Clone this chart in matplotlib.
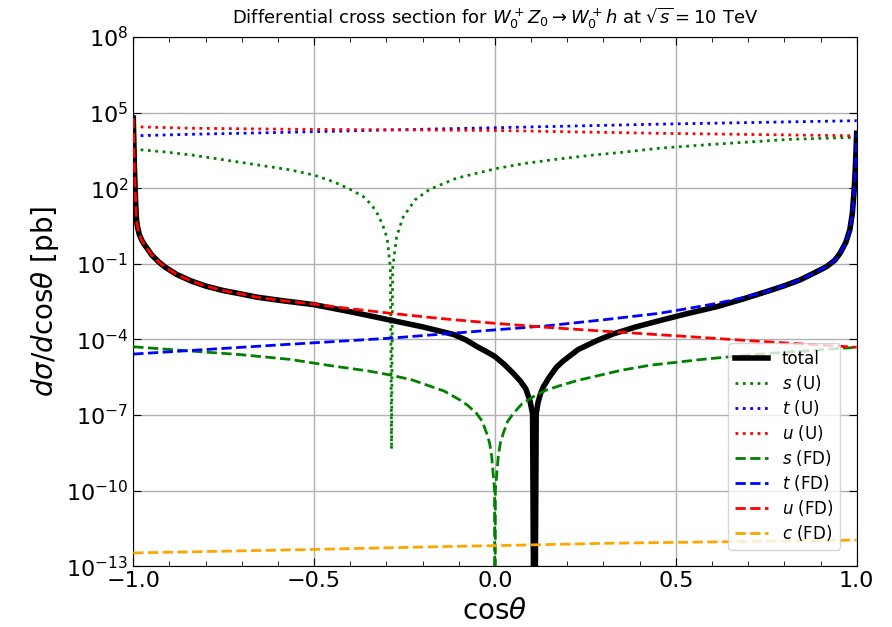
import numpy as np
import matplotlib
matplotlib.use("Agg")
import matplotlib.pyplot as plt
from matplotlib.ticker import FixedLocator, MultipleLocator, LogFormatterSciNotation, NullLocator

# Values: cos(theta) and log10(dsigma/dcos) for each curve

# total
tot_c = [-1.0, -0.998, -0.997, -0.995, -0.993, -0.991, -0.988, -0.983, -0.977, -0.970,
         -0.960, -0.949, -0.930, -0.912, -0.880, -0.840, -0.800, -0.751, -0.700, -0.659,
         -0.594, -0.5, -0.4, -0.29, -0.2, -0.115, -0.08, -0.05, -0.025, 0.0,
         0.025, 0.051, 0.07, 0.085, 0.097, 0.104, 0.109, 0.114, 0.119, 0.126,
         0.133, 0.15, 0.17, 0.189, 0.23, 0.281, 0.327, 0.39, 0.456, 0.53,
         0.613, 0.68, 0.751, 0.80, 0.843, 0.88, 0.917, 0.94, 0.954, 0.97,
         0.981, 0.988, 0.993, 0.996, 0.998, 1.0]
tot_log = [4.78, 3.6, 2.9, 2.06, 1.3, 0.74, 0.45, 0.15, -0.05, -0.22,
           -0.42, -0.65, -0.92, -1.13, -1.42, -1.68, -1.88, -2.06, -2.20, -2.32,
           -2.45, -2.62, -2.90, -3.23, -3.50, -3.80, -4.02, -4.28, -4.47, -4.68,
           -4.98, -5.35, -5.65, -5.95, -6.45, -6.95, -20.0, -6.95, -6.50, -6.15,
           -5.90, -5.50, -5.10, -4.85, -4.40, -4.05, -3.78, -3.50, -3.25, -2.98,
           -2.70, -2.42, -2.10, -1.87, -1.64, -1.38, -1.11, -0.85, -0.58, -0.15,
           0.35, 1.0, 1.93, 2.7, 3.4, 4.18]

# s (U)
sU_c = [-1.0, -0.92, -0.84, -0.7, -0.567, -0.5, -0.447, -0.401, -0.364, -0.341, -0.323, -0.309,
        -0.298, -0.289, -0.286, -0.283, -0.272, -0.254, -0.221, -0.18, -0.106, 0.0,
        0.08, 0.171, 0.26, 0.355, 0.456, 0.6, 0.816, 1.0]
sU_log = [3.55, 3.45, 3.32, 3.02, 2.73, 2.52, 2.26, 1.96, 1.67, 1.34, 0.94, 0.48,
          0.02, -1.2, -8.36, -1.2, 0.08, 0.85, 1.54, 1.96, 2.40, 2.77,
          2.98, 3.15, 3.30, 3.43, 3.59, 3.74, 3.94, 4.02]

# t (U)
tU_c = [-1.0, -0.84, -0.567, -0.3, 0.0, 0.447, 1.0]
tU_log = [4.08, 4.14, 4.22, 4.31, 4.40, 4.54, 4.68]

# u (U)
uU_c = [-1.0, -0.84, -0.567, -0.3, 0.0, 0.447, 1.0]
uU_log = [4.44, 4.38, 4.34, 4.32, 4.29, 4.18, 4.08]

# s (FD)
sFD_c = [-1.0, -0.85, -0.705, -0.567, -0.45, -0.35, -0.29, -0.23, -0.18, -0.14, -0.097,
         -0.075, -0.051, -0.035, -0.023, -0.015, -0.009, -0.001, 0.0,
         0.001, 0.009, 0.015, 0.023, 0.035, 0.051, 0.075, 0.106, 0.14, 0.18, 0.23, 0.29,
         0.35, 0.43, 0.567, 0.705, 0.85, 1.0]
sFD_log = [-4.29, -4.45, -4.60, -4.79, -5.05, -5.25, -5.41, -5.60, -5.85, -6.05, -6.40,
           -6.62, -6.93, -7.25, -7.72, -8.10, -8.65, -10.0, -20.0,
           -10.0, -8.65, -8.10, -7.72, -7.25, -6.93, -6.55, -6.27, -6.02, -5.83, -5.62, -5.42,
           -5.22, -5.02, -4.80, -4.61, -4.46, -4.31]

# t (FD)
tFD_c = [-1.0, -0.567, -0.29, 0.0, 0.143, 0.3, 0.456, 0.53, 0.613, 0.68, 0.751, 0.80,
         0.843, 0.88, 0.917, 0.94, 0.954, 0.97, 0.981, 0.988, 0.993, 0.996, 0.998, 1.0]
tFD_log = [-4.58, -4.19, -3.95, -3.62, -3.46, -3.22, -2.96, -2.78, -2.57, -2.36, -2.10, -1.87,
           -1.64, -1.38, -1.11, -0.85, -0.58, -0.15, 0.35, 1.0, 1.93, 2.7, 3.4, 4.18]

# u (FD)
uFD_c = [-1.0, -0.998, -0.997, -0.995, -0.993, -0.991, -0.988, -0.983, -0.977, -0.970,
         -0.960, -0.949, -0.930, -0.912, -0.880, -0.840, -0.800, -0.751, -0.700, -0.659,
         -0.594, -0.5, -0.4, -0.29, -0.15, 0.0, 0.143, 0.3, 0.43, 0.57, 0.705, 0.85, 1.0]
uFD_log = [4.78, 3.6, 2.9, 2.06, 1.3, 0.74, 0.45, 0.15, -0.05, -0.22,
           -0.42, -0.65, -0.92, -1.13, -1.42, -1.68, -1.88, -2.06, -2.20, -2.32,
           -2.45, -2.60, -2.78, -2.96, -3.17, -3.36, -3.52, -3.67, -3.79, -3.92, -4.05, -4.18, -4.31]

# c (FD)
cFD_c = [-1.0, -0.676, -0.5, -0.152, 0.0, 0.235, 0.294, 0.5, 1.0]
cFD_log = [-12.47, -12.38, -12.33, -12.22, -12.18, -12.11, -12.09, -12.05, -11.96]

fig = plt.figure(figsize=(8.92, 6.27), dpi=100)
ax = fig.add_axes([0.1494, 0.0968, 0.8110, 0.8442])

ax.plot(tot_c, 10.0 ** np.array(tot_log), color='black', lw=4, label='total', zorder=3)
ax.plot(sU_c, 10.0 ** np.array(sU_log), ':', color='green', lw=2, label='$s$ (U)')
ax.plot(tU_c, 10.0 ** np.array(tU_log), ':', color='blue', lw=2, label='$t$ (U)')
ax.plot(uU_c, 10.0 ** np.array(uU_log), ':', color='red', lw=2, label='$u$ (U)')
ax.plot(sFD_c, 10.0 ** np.array(sFD_log), '--', color='green', lw=2, label='$s$ (FD)', zorder=4)
ax.plot(tFD_c, 10.0 ** np.array(tFD_log), '--', color='blue', lw=2, label='$t$ (FD)', zorder=4)
ax.plot(uFD_c, 10.0 ** np.array(uFD_log), '--', color='red', lw=2, label='$u$ (FD)', zorder=4)
ax.plot(cFD_c, 10.0 ** np.array(cFD_log), '--', color='orange', lw=2, label='$c$ (FD)', zorder=4)

ax.set_yscale('log')
ax.set_xlim(-1, 1)
ax.set_ylim(1e-13, 1e8)
ax.yaxis.set_major_locator(FixedLocator(10.0 ** np.arange(-13, 9, 3)))
ax.yaxis.set_major_formatter(LogFormatterSciNotation())
ax.yaxis.set_minor_locator(NullLocator())
ax.xaxis.set_major_locator(MultipleLocator(0.5))
ax.xaxis.set_minor_locator(MultipleLocator(0.1))

ax.tick_params(which='both', direction='in', top=True, right=True)
ax.tick_params(which='major', length=6, labelsize=16)
ax.tick_params(which='minor', length=3.5)
ax.grid(True, which='major', color='#b0b0b0', lw=1)

ax.set_title(r'Differential cross section for $W_0^+Z_0\to W_0^+h$ at $\sqrt{s}=10$ TeV',
             fontsize=13, pad=9)
ax.set_xlabel(r'$\mathrm{cos}\theta$', fontsize=20)
ax.set_ylabel(r'$d\sigma/d\mathrm{cos}\theta$ [pb]', fontsize=20)

ax.legend(loc='lower right', fontsize=12, borderaxespad=1.0, labelspacing=0.3)

fig.savefig('out.png', dpi=100)
